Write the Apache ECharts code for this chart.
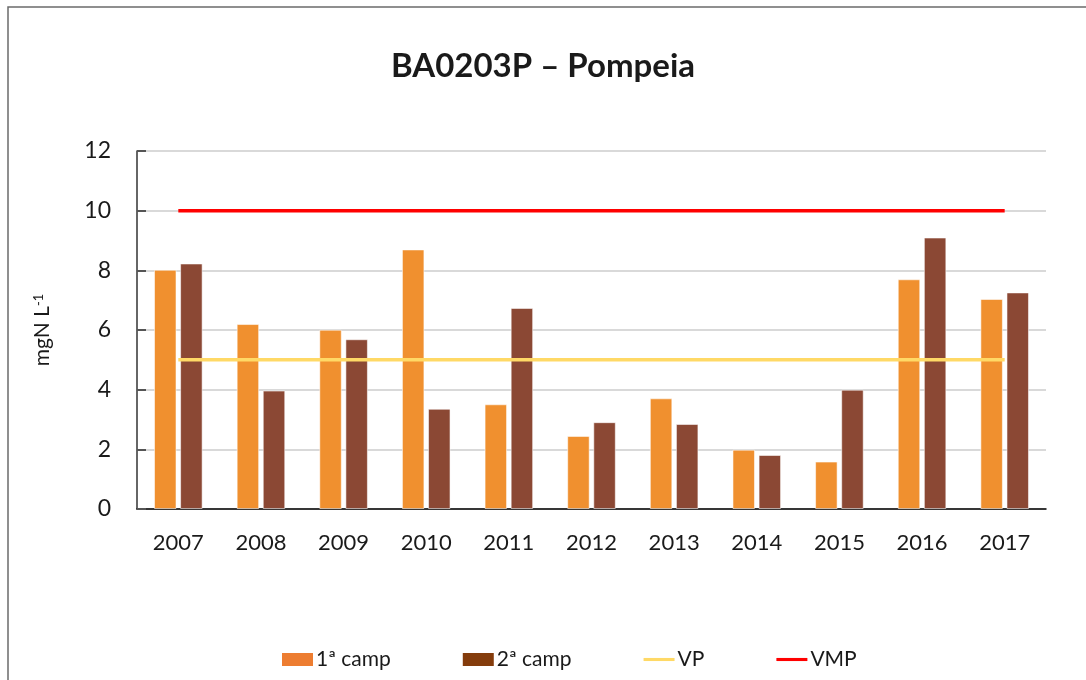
<!DOCTYPE html>
<html>
<head>
<meta charset="utf-8">
<script src="https://cdn.jsdelivr.net/npm/echarts@6/dist/echarts.min.js"></script>
<style>
  html, body { margin: 0; padding: 0; background: #fff; }
  #main { width: 1086px; height: 680px; }
</style>
</head>
<body>
<div id="main"></div>
<script>
// dados
const anos = ["2007", "2008", "2009", "2010", "2011", "2012", "2013", "2014", "2015", "2016", "2017"];
const camp1 = [8.02, 6.2, 6.01, 8.7, 3.51, 2.45, 3.71, 1.99, 1.59, 7.7, 7.04];
const camp2 = [8.23, 3.97, 5.69, 3.36, 6.74, 2.91, 2.85, 1.81, 4.0, 9.1, 7.26];
const vp = [5, 5, 5, 5, 5, 5, 5, 5, 5, 5, 5];
const vmp = [10, 10, 10, 10, 10, 10, 10, 10, 10, 10, 10];
const yTicks = [0, 2, 4, 6, 8, 10, 12];

const font = "Lato, 'Open Sans', sans-serif";
// ícone de linha fina para a legenda
const lineIcon = "path://M0,0H100V10H0Z";

var chartDom = document.getElementById("main");
var myChart = echarts.init(chartDom);
var option = {
  animation: false,
  textStyle: { fontFamily: font },
  title: {
    text: "BA0203P – Pompeia",
    left: "center",
    top: 45,
    textStyle: { fontFamily: font, fontSize: 33, fontWeight: "bold", color: "#1a1a1a" },
  },
  graphic: [
    {
      type: "rect",
      shape: { x: 8, y: 7, width: 1100, height: 700 },
      style: { fill: "none", stroke: "#6b6b6b", lineWidth: 1.5 },
    },
  ],
  grid: { left: 137, right: 40, top: 151, bottom: 171 },
  legend: {
    top: 644,
    left: 277,
    itemGap: 72,
    itemWidth: 31,
    itemHeight: 13,
    textStyle: { fontFamily: font, fontSize: 21, color: "#1a1a1a", padding: [0, 0, 0, -2] },
    data: [
      { name: "1ª camp", icon: "rect", itemStyle: { color: "#ED7D31", borderWidth: 0 } },
      { name: "2ª camp", icon: "rect", itemStyle: { color: "#843C0C", borderWidth: 0 } },
      { name: "VP", icon: lineIcon, itemStyle: { color: "#FFD966", borderWidth: 0 } },
      { name: "VMP", icon: lineIcon, itemStyle: { color: "#FF0000", borderWidth: 0 } },
    ],
  },
  xAxis: {
    type: "category",
    data: anos,
    axisLine: { lineStyle: { color: "#000", width: 1.5 } },
    axisTick: { show: false },
    axisLabel: { fontFamily: font, fontSize: 22, color: "#1a1a1a", margin: 23 },
  },
  yAxis: {
    type: "value",
    min: yTicks[0],
    max: yTicks[yTicks.length - 1],
    interval: 2,
    name: "mgN L{sup|-1}",
    nameLocation: "middle",
    nameGap: 84,
    nameRotate: 90,
    nameTextStyle: {
      fontFamily: font,
      fontSize: 21,
      color: "#1a1a1a",
      rich: { sup: { fontFamily: font, fontSize: 13, verticalAlign: "top", lineHeight: 21, color: "#1a1a1a" } },
    },
    axisLine: { show: true, lineStyle: { color: "#333", width: 1.5 } },
    axisTick: { show: true, inside: true, length: 9, lineStyle: { color: "#555", width: 2 } },
    axisLabel: { fontFamily: font, fontSize: 23, color: "#1a1a1a", margin: 26 },
    splitLine: { lineStyle: { color: "#d9d9d9", width: 2 } },
  },
  series: [
    {
      name: "1ª camp",
      type: "bar",
      data: camp1,
      barWidth: 22.5,
      barGap: "16%",
      itemStyle: { color: "#F0902F", borderColor: "rgba(255,255,255,0.55)", borderWidth: 1 },
    },
    {
      name: "2ª camp",
      type: "bar",
      data: camp2,
      barWidth: 22.5,
      itemStyle: { color: "#8B4834", borderColor: "rgba(255,255,255,0.55)", borderWidth: 1 },
    },
    {
      name: "VP",
      type: "line",
      data: vp,
      symbol: "none",
      lineStyle: { color: "#FFD966", width: 3.5 },
      itemStyle: { color: "#FFD966" },
      z: 3,
    },
    {
      name: "VMP",
      type: "line",
      data: vmp,
      symbol: "none",
      lineStyle: { color: "#FF0000", width: 3.5 },
      itemStyle: { color: "#FF0000" },
      z: 3,
    },
  ],
};
myChart.setOption(option);
</script>
</body>
</html>
